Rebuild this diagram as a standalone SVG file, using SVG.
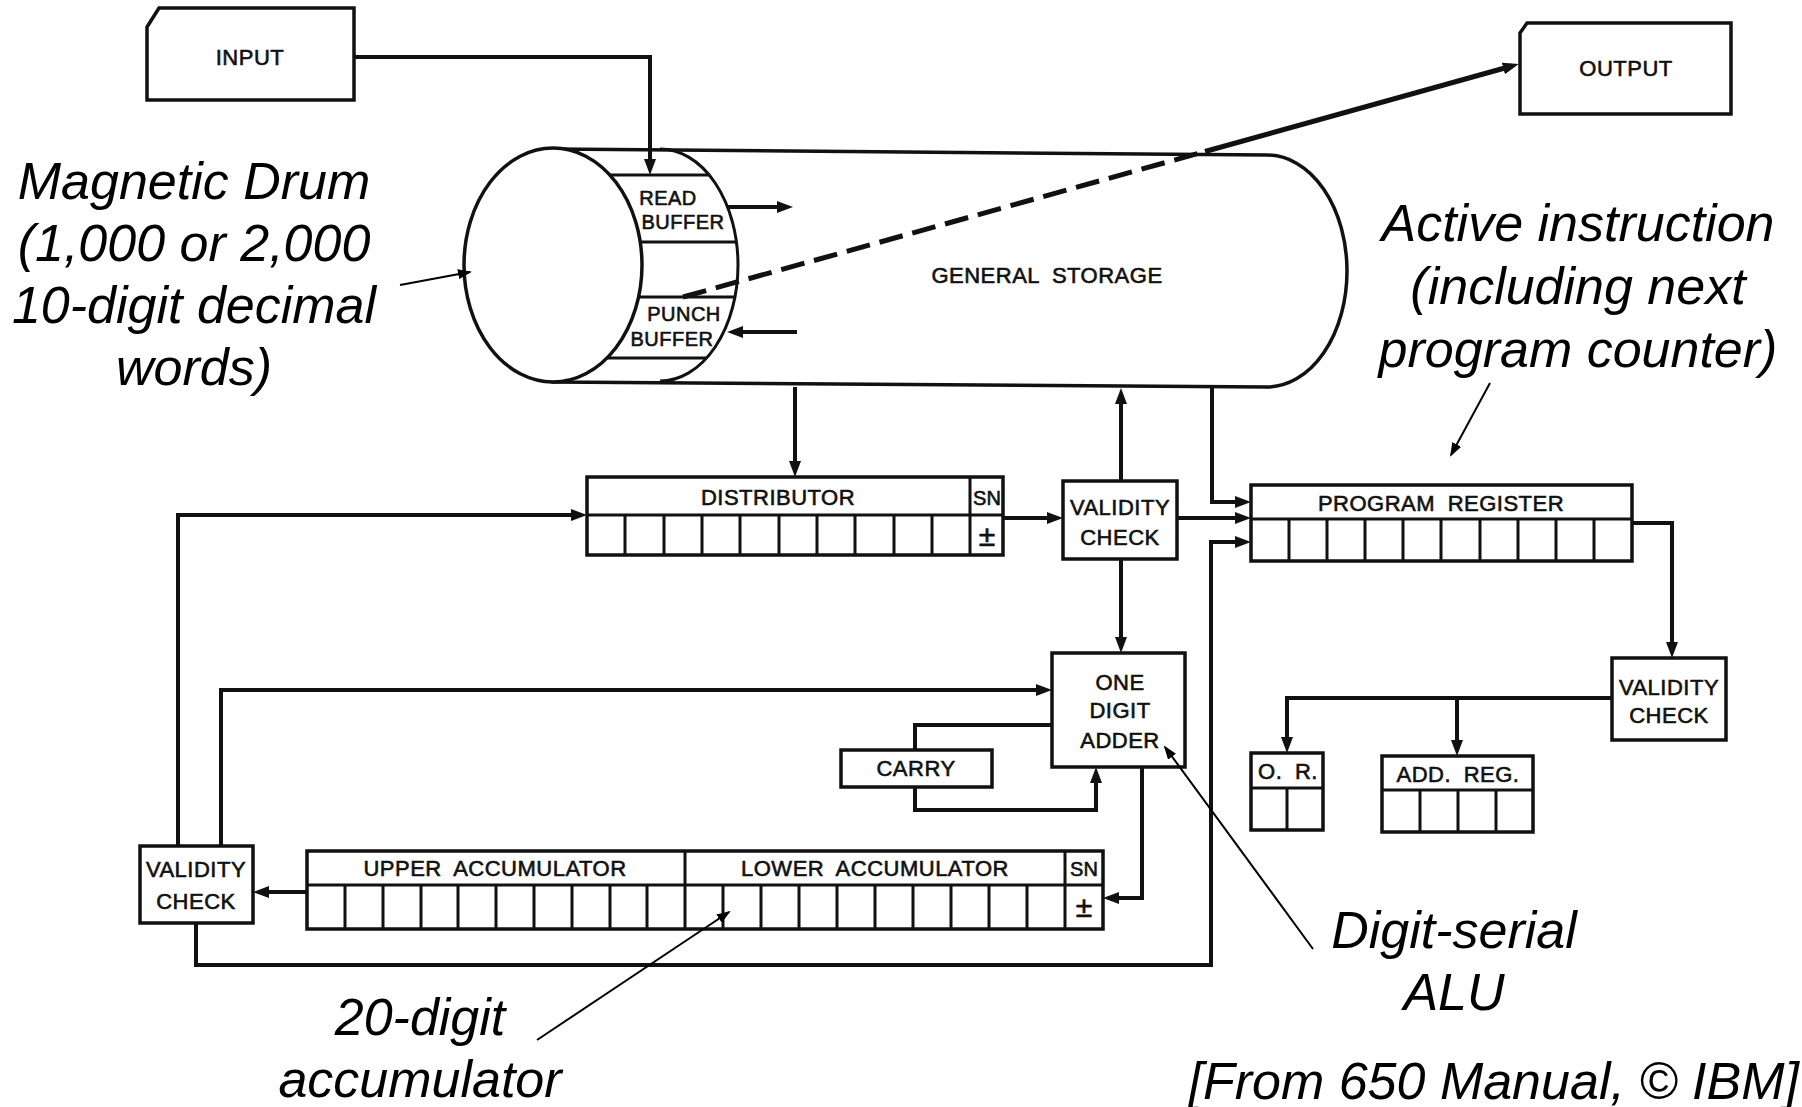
<svg xmlns="http://www.w3.org/2000/svg" width="1802" height="1107" viewBox="0 0 1802 1107">
<style>
.bx{fill:#fff;stroke:#111;stroke-width:3.5}
.ln{fill:none;stroke:#111;stroke-width:3}
.cn{fill:none;stroke:#111;stroke-width:4;stroke-linejoin:miter}
.an{fill:none;stroke:#000;stroke-width:2}
.lbl{font-family:"Liberation Sans",Arial,sans-serif;font-size:22px;letter-spacing:0.5px;word-spacing:6px;text-anchor:middle;fill:#111;stroke:#111;stroke-width:0.6px}
.sm{font-size:20px}
.pm{font-size:30px;letter-spacing:0}
.ann{font-family:"Liberation Sans",Arial,sans-serif;font-style:italic;font-size:52px;text-anchor:middle;fill:#000}
</style>
<defs>
<marker id="ah" viewBox="0 0 16 12" markerWidth="16" markerHeight="12" markerUnits="userSpaceOnUse" refX="9" refY="6" orient="auto"><path d="M0,0 L16,6 L0,12 z" fill="#111"/></marker>
<marker id="ah2" viewBox="0 0 14 10" markerWidth="14" markerHeight="10" markerUnits="userSpaceOnUse" refX="12" refY="5" orient="auto"><path d="M0,0 L14,5 L0,10 z" fill="#000"/></marker>
</defs>
<rect width="1802" height="1107" fill="#fff"/>

<g id="input">
<path class="bx" d="M147,27 L159,8 H354 V100 H147 Z"/>
<text class="lbl" x="250" y="65">INPUT</text>
</g>

<g id="output">
<path class="bx" d="M1520,33 L1527,23 H1731 V114 H1520 Z"/>
<text class="lbl" x="1626" y="76">OUTPUT</text>
</g>

<g id="drum">
<path class="bx" d="M553,149 L1267,155 A80,116 0 0 1 1267,387 L553,382 Z"/>
<path class="ln" d="M660,149 A78,116 0 0 1 660,381"/>
<path class="ln" d="M610,175 H709 M640,242 H736 M639,297 H735 M607,358 H707"/>
<ellipse class="bx" cx="553" cy="265" rx="89" ry="117"/>
<text class="lbl sm" x="668" y="205">READ</text>
<text class="lbl sm" x="683" y="229">BUFFER</text>
<text class="lbl sm" x="684" y="321">PUNCH</text>
<text class="lbl sm" x="672" y="346">BUFFER</text>
<text class="lbl" x="1047" y="283">GENERAL STORAGE</text>
</g>

<g id="distributor">
<rect class="bx" x="587" y="477" width="416" height="78"/>
<path class="ln" d="M587,515 H1003 M970,477 V555 M625,515 V555 M664,515 V555 M702,515 V555 M740,515 V555 M779,515 V555 M817,515 V555 M855,515 V555 M894,515 V555 M932,515 V555"/>
<text class="lbl" x="778" y="505">DISTRIBUTOR</text>
<text class="lbl sm" x="987" y="505" style="letter-spacing:0">SN</text>
<text class="lbl pm" x="987" y="546">±</text>
</g>

<g id="validity-mid">
<rect class="bx" x="1063" y="481" width="114" height="78"/>
<text class="lbl" x="1120" y="515">VALIDITY</text>
<text class="lbl" x="1120" y="545">CHECK</text>
</g>

<g id="program-register">
<rect class="bx" x="1251" y="485" width="381" height="76"/>
<path class="ln" d="M1251,519 H1632 M1289,519 V561 M1327,519 V561 M1365,519 V561 M1403,519 V561 M1441,519 V561 M1480,519 V561 M1518,519 V561 M1556,519 V561 M1594,519 V561"/>
<text class="lbl" x="1441" y="511">PROGRAM REGISTER</text>
</g>

<g id="adder">
<rect class="bx" x="1052" y="653" width="133" height="114"/>
<text class="lbl" x="1120" y="690">ONE</text>
<text class="lbl" x="1120" y="718">DIGIT</text>
<text class="lbl" x="1120" y="748">ADDER</text>
</g>

<g id="carry">
<rect class="bx" x="841" y="750" width="151" height="37"/>
<text class="lbl" x="916" y="776">CARRY</text>
</g>

<g id="validity-right">
<rect class="bx" x="1612" y="658" width="114" height="82"/>
<text class="lbl" x="1669" y="695">VALIDITY</text>
<text class="lbl" x="1669" y="723">CHECK</text>
</g>

<g id="or">
<rect class="bx" x="1251" y="753" width="72" height="77"/>
<path class="ln" d="M1251,788 H1323 M1287,788 V830"/>
<text class="lbl" x="1288" y="779">O. R.</text>
</g>

<g id="add-reg">
<rect class="bx" x="1382" y="756" width="151" height="76"/>
<path class="ln" d="M1382,790 H1533 M1420,790 V832 M1458,790 V832 M1496,790 V832"/>
<text class="lbl" x="1458" y="782">ADD. REG.</text>
</g>

<g id="validity-left">
<rect class="bx" x="140" y="846" width="113" height="77"/>
<text class="lbl" x="196" y="877">VALIDITY</text>
<text class="lbl" x="196" y="909">CHECK</text>
</g>

<g id="accumulator">
<rect class="bx" x="307" y="851" width="796" height="78"/>
<path class="ln" d="M307,885 H1103 M685,851 V929 M1065,851 V929 M345,885 V929 M383,885 V929 M421,885 V929 M458,885 V929 M496,885 V929 M534,885 V929 M572,885 V929 M610,885 V929 M647,885 V929 M723,885 V929 M761,885 V929 M799,885 V929 M837,885 V929 M875,885 V929 M913,885 V929 M951,885 V929 M989,885 V929 M1027,885 V929"/>
<text class="lbl" x="495" y="876">UPPER ACCUMULATOR</text>
<text class="lbl" x="875" y="876">LOWER ACCUMULATOR</text>
<text class="lbl sm" x="1084" y="876" style="letter-spacing:0">SN</text>
<text class="lbl pm" x="1084" y="917">±</text>
</g>

<g id="connectors">
<path class="cn" d="M354,57 H650 V168" marker-end="url(#ah)"/>
<path class="cn" d="M728,207 H786" marker-end="url(#ah)"/>
<path class="cn" d="M797,332 H734" marker-end="url(#ah)"/>
<path class="cn" d="M683,297 L1205,151.5" stroke-dasharray="24 10" style="stroke-width:5"/>
<path class="cn" d="M1205,151.5 L1512,66" marker-end="url(#ah)" style="stroke-width:5"/>
<path class="cn" d="M795,387 V470" marker-end="url(#ah)"/>
<path class="cn" d="M1121,481 V395" marker-end="url(#ah)"/>
<path class="cn" d="M1003,518 H1056" marker-end="url(#ah)"/>
<path class="cn" d="M1121,559 V646" marker-end="url(#ah)"/>
<path class="cn" d="M1212,387 V502 H1244" marker-end="url(#ah)"/>
<path class="cn" d="M1177,518 H1244" marker-end="url(#ah)"/>
<path class="cn" d="M196,923 V965 H1211 V542 H1244" marker-end="url(#ah)"/>
<path class="cn" d="M1632,523 H1672 V651" marker-end="url(#ah)"/>
<path class="cn" d="M1612,698 H1287 V746" marker-end="url(#ah)"/>
<path class="cn" d="M1457,698 V749" marker-end="url(#ah)"/>
<path class="cn" d="M178,846 V515 H580" marker-end="url(#ah)"/>
<path class="cn" d="M221,846 V690 H1045" marker-end="url(#ah)"/>
<path class="cn" d="M1052,725 H915 V750"/>
<path class="cn" d="M915,787 V810 H1096 V774" marker-end="url(#ah)"/>
<path class="cn" d="M1142,767 V898 H1110" marker-end="url(#ah)"/>
<path class="cn" d="M307,892 H260" marker-end="url(#ah)"/>
</g>

<g id="annotations">
<text class="ann" x="194" y="199">Magnetic Drum</text>
<text class="ann" x="194" y="261">(1,000 or 2,000</text>
<text class="ann" x="194" y="323">10-digit decimal</text>
<text class="ann" x="194" y="385">words)</text>
<text class="ann" x="1578" y="241">Active instruction</text>
<text class="ann" x="1578" y="304">(including next</text>
<text class="ann" x="1578" y="367">program counter)</text>
<text class="ann" x="420" y="1035">20-digit</text>
<text class="ann" x="420" y="1097">accumulator</text>
<text class="ann" x="1454" y="948">Digit-serial</text>
<text class="ann" x="1454" y="1010">ALU</text>
<text class="ann" x="1799" y="1099" style="text-anchor:end">[From 650 Manual, © IBM]</text>
<path class="an" d="M400,285 L470,272" marker-end="url(#ah2)"/>
<path class="an" d="M1490,383 L1451,455" marker-end="url(#ah2)"/>
<path class="an" d="M537,1040 L729,912" marker-end="url(#ah2)"/>
<path class="an" d="M1313,949 L1165,747" marker-end="url(#ah2)"/>
</g>
</svg>
